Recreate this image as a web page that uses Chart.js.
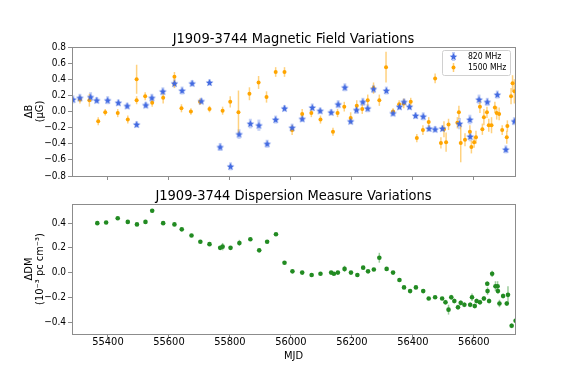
<!DOCTYPE html>
<html>
<head>
<meta charset="utf-8">
<script src="https://cdn.jsdelivr.net/npm/chart.js@4.4.1/dist/chart.umd.min.js"></script>
<style>
body { margin: 0; background: #fff; }
#wrap { position: relative; width: 572px; height: 382px; }
canvas { position: absolute; left: 0; }
</style>
</head>
<body>
<div id="wrap">
<canvas id="bChart" width="572" height="190" style="top:0px"></canvas>
<canvas id="dmChart" width="572" height="202" style="top:180px"></canvas>
</div>
<script>
// magnetic field, 820 MHz
var b820Mjd = [55285, 55308, 55343, 55363, 55399, 55434, 55463, 55494, 55524, 55544, 55580, 55618, 55643, 55676, 55706, 55733, 55768, 55802, 55830, 55867, 55895, 55922, 55950, 55979, 56004, 56037, 56070, 56096, 56132, 56155, 56177, 56196, 56215, 56236, 56252, 56271, 56313, 56335, 56356, 56371, 56389, 56409, 56434, 56453, 56473, 56497, 56553, 56587, 56588, 56617, 56644, 56677, 56705, 56733];
var b820Val = [0.15, 0.17, 0.18, 0.14, 0.14, 0.11, 0.07, -0.16, 0.08, 0.17, 0.25, 0.35, 0.26, 0.35, 0.13, 0.36, -0.44, -0.68, -0.28, -0.15, -0.17, -0.40, -0.10, 0.04, -0.20, -0.09, 0.05, 0.01, -0.01, 0.09, 0.30, -0.12, 0.02, 0.12, 0.04, 0.28, 0.26, -0.02, 0.06, 0.12, 0.06, -0.05, -0.06, -0.21, -0.22, -0.21, -0.15, -0.10, -0.31, 0.15, 0.12, 0.21, -0.47, -0.12];
var b820Err = [0.05, 0.05, 0.06, 0.04, 0.05, 0.04, 0.04, 0.04, 0.04, 0.05, 0.05, 0.05, 0.05, 0.04, 0.04, 0.04, 0.05, 0.05, 0.06, 0.06, 0.07, 0.05, 0.05, 0.04, 0.05, 0.04, 0.05, 0.04, 0.04, 0.05, 0.05, 0.04, 0.05, 0.05, 0.05, 0.05, 0.05, 0.04, 0.04, 0.04, 0.04, 0.04, 0.05, 0.04, 0.04, 0.04, 0.07, 0.06, 0.06, 0.06, 0.05, 0.05, 0.05, 0.05];

// magnetic field, 1500 MHz
var b1500Mjd = [55308, 55339, 55368, 55391, 55432, 55465, 55494, 55494, 55522, 55545, 55581, 55618, 55618, 55641, 55672, 55702, 55733, 55776, 55801, 55828, 55864, 55894, 55920, 55950, 55979, 56004, 56037, 56067, 56097, 56138, 56153, 56175, 56196, 56216, 56234, 56252, 56271, 56290, 56312, 56335, 56355, 56370, 56393, 56413, 56433, 56452, 56473, 56492, 56502, 56509, 56517, 56546, 56551, 56557, 56571, 56587, 56592, 56601, 56607, 56620, 56628, 56633, 56643, 56649, 56658, 56669, 56675, 56683, 56693, 56708, 56710, 56722, 56727, 56733];
var b1500Val = [0.15, 0.14, -0.12, -0.01, -0.02, -0.10, 0.40, 0.14, 0.19, 0.11, 0.17, 0.43, 0.34, 0.04, 0.00, 0.12, 0.03, 0.01, 0.12, -0.01, 0.22, 0.36, 0.18, 0.49, 0.49, -0.23, -0.03, -0.02, -0.10, -0.25, -0.02, 0.06, -0.08, 0.07, 0.03, 0.14, 0.29, 0.14, 0.55, 0.00, 0.09, 0.10, 0.12, -0.33, -0.23, -0.13, 0.41, -0.39, -0.22, -0.38, -0.16, -0.14, -0.01, -0.39, -0.35, -0.25, -0.44, -0.38, -0.32, 0.06, -0.22, -0.07, -0.01, -0.17, -0.17, 0.05, -0.02, -0.03, -0.23, -0.32, -0.18, 0.19, 0.35, 0.25];
var b1500Err = [0.05, 0.08, 0.05, 0.04, 0.05, 0.05, 0.18, 0.05, 0.05, 0.05, 0.07, 0.06, 0.05, 0.05, 0.04, 0.04, 0.04, 0.05, 0.07, 0.27, 0.08, 0.08, 0.07, 0.06, 0.06, 0.06, 0.06, 0.05, 0.05, 0.05, 0.05, 0.06, 0.07, 0.07, 0.06, 0.07, 0.07, 0.07, 0.19, 0.04, 0.05, 0.06, 0.05, 0.05, 0.06, 0.06, 0.06, 0.07, 0.10, 0.12, 0.07, 0.07, 0.08, 0.24, 0.08, 0.08, 0.08, 0.07, 0.08, 0.08, 0.07, 0.10, 0.07, 0.08, 0.10, 0.07, 0.08, 0.08, 0.06, 0.08, 0.07, 0.10, 0.10, 0.15];

// dispersion measure
var dmMjd = [55365, 55394, 55432, 55465, 55495, 55523, 55545, 55581, 55618, 55642, 55674, 55703, 55733, 55768, 55776, 55802, 55831, 55867, 55896, 55922, 55951, 55979, 56005, 56037, 56068, 56097, 56132, 56141, 56154, 56176, 56197, 56218, 56237, 56253, 56272, 56290, 56314, 56335, 56356, 56371, 56391, 56410, 56434, 56452, 56473, 56496, 56507, 56517, 56526, 56536, 56548, 56557, 56569, 56588, 56594, 56603, 56609, 56620, 56633, 56644, 56645, 56650, 56660, 56671, 56678, 56679, 56684, 56696, 56708, 56712, 56724, 56737];
var dmVal = [0.40, 0.405, 0.44, 0.41, 0.39, 0.41, 0.50, 0.40, 0.39, 0.35, 0.30, 0.25, 0.23, 0.20, 0.21, 0.20, 0.24, 0.27, 0.18, 0.25, 0.31, 0.08, 0.01, 0.00, -0.02, -0.01, 0.00, -0.01, 0.00, 0.03, 0.00, -0.02, 0.04, 0.01, 0.025, 0.12, 0.03, 0.00, -0.06, -0.12, -0.15, -0.12, -0.15, -0.21, -0.20, -0.21, -0.24, -0.30, -0.20, -0.23, -0.28, -0.245, -0.26, -0.26, -0.20, -0.27, -0.23, -0.24, -0.21, -0.09, -0.15, -0.23, -0.01, -0.11, -0.11, -0.15, -0.25, -0.19, -0.25, -0.18, -0.43, -0.39];
var dmErr = [0.01, 0.01, 0.01, 0.01, 0.01, 0.015, 0.015, 0.01, 0.01, 0.01, 0.01, 0.01, 0.01, 0.01, 0.03, 0.01, 0.025, 0.01, 0.01, 0.01, 0.01, 0.01, 0.01, 0.01, 0.01, 0.01, 0.01, 0.01, 0.01, 0.025, 0.01, 0.01, 0.01, 0.01, 0.01, 0.04, 0.01, 0.01, 0.01, 0.01, 0.01, 0.01, 0.01, 0.01, 0.01, 0.01, 0.02, 0.04, 0.02, 0.02, 0.02, 0.02, 0.02, 0.02, 0.03, 0.02, 0.02, 0.02, 0.02, 0.02, 0.03, 0.02, 0.025, 0.04, 0.04, 0.02, 0.03, 0.02, 0.02, 0.07, 0.02, 0.02];

var mjdTicks = [55400, 55600, 55800, 56000, 56200, 56400, 56600];
var bTicks = [-0.8, -0.6, -0.4, -0.2, 0.0, 0.2, 0.4, 0.6, 0.8];
var dmTicks = [-0.4, -0.2, 0.0, 0.2, 0.4];

var FONT = "'DejaVu Sans Condensed', 'DejaVu Sans', sans-serif";
Chart.defaults.font.family = FONT;
Chart.defaults.color = '#000';

function pts(xs, ys) {
    return xs.map(function(v, i) { return {x: v, y: ys[i]}; });
}

function fmt(v) {
    return Number(v).toFixed(1).replace('-', '\u2212');
}

// filled 5-point star like matplotlib '*'
function makeStar(color) {
    var c = document.createElement('canvas');
    c.width = 9; c.height = 9;
    var g = c.getContext('2d');
    g.fillStyle = color;
    g.beginPath();
    for (var i = 0; i < 10; i++) {
        var r = i % 2 === 0 ? 4.0 : 1.7;
        var a = -Math.PI / 2 + i * Math.PI / 5;
        var px = 4.5 + r * Math.cos(a), py = 4.9 + r * Math.sin(a);
        if (i === 0) g.moveTo(px, py); else g.lineTo(px, py);
    }
    g.closePath();
    g.fill();
    return c;
}
var blueStar = makeStar('#4169e1');

var errorBars = {
    id: 'errorBars',
    beforeDatasetsDraw: function(chart) {
        var ctx = chart.ctx, a = chart.chartArea;
        var xs = chart.scales.x, ys = chart.scales.y;
        ctx.save();
        ctx.beginPath();
        ctx.rect(a.left, a.top, a.right - a.left, a.bottom - a.top);
        ctx.clip();
        chart.data.datasets.forEach(function(ds) {
            if (!ds.errors) return;
            ctx.strokeStyle = ds.errColor;
            ctx.lineWidth = ds.errWidth;
            ds.data.forEach(function(p, i) {
                var px = xs.getPixelForValue(p.x);
                ctx.beginPath();
                ctx.moveTo(px, ys.getPixelForValue(p.y - ds.errors[i]));
                ctx.lineTo(px, ys.getPixelForValue(p.y + ds.errors[i]));
                ctx.stroke();
            });
        });
        ctx.restore();
    }
};

// box around the axes + title above
var frame = {
    id: 'frame',
    afterDraw: function(chart, args, opts) {
        var ctx = chart.ctx, a = chart.chartArea;
        ctx.save();
        ctx.strokeStyle = '#8c8c8c';
        ctx.lineWidth = 1;
        ctx.strokeRect(Math.round(a.left) + 0.5, Math.round(a.top) + 0.5, Math.round(a.right - a.left), Math.round(a.bottom - a.top));
        ctx.fillStyle = '#000';
        ctx.font = '14.5px ' + FONT;
        ctx.textAlign = 'center';
        ctx.textBaseline = 'alphabetic';
        ctx.fillText(opts.text, (a.left + a.right) / 2, a.top - 4.5);
        ctx.restore();
    }
};

var legendBox = {
    id: 'legendBox',
    afterDraw: function(chart) {
        var ctx = chart.ctx;
        ctx.save();
        ctx.fillStyle = 'rgba(255,255,255,0.85)';
        ctx.strokeStyle = '#d0d0d0';
        ctx.lineWidth = 1;
        ctx.beginPath();
        ctx.roundRect(442.5, 50.5, 68, 25, 2);
        ctx.fill();
        ctx.stroke();
        // 820 MHz entry
        ctx.strokeStyle = 'rgba(65,105,225,0.35)';
        ctx.lineWidth = 3;
        ctx.beginPath(); ctx.moveTo(453.5, 52); ctx.lineTo(453.5, 61); ctx.stroke();
        ctx.drawImage(blueStar, 449, 52);
        // 1500 MHz entry
        ctx.strokeStyle = 'rgba(255,165,0,0.55)';
        ctx.lineWidth = 1.5;
        ctx.beginPath(); ctx.moveTo(453.5, 63); ctx.lineTo(453.5, 72); ctx.stroke();
        ctx.fillStyle = '#ffa500';
        ctx.beginPath(); ctx.arc(453.5, 67.5, 2, 0, Math.PI * 2); ctx.fill();
        ctx.fillStyle = '#000';
        ctx.font = '8.5px ' + FONT;
        ctx.textAlign = 'left';
        ctx.textBaseline = 'middle';
        ctx.fillText('820 MHz', 468, 57);
        ctx.fillText('1500 MHz', 468, 68);
        ctx.restore();
    }
};

function xAxis(showLabels, height) {
    return {
        type: 'linear',
        min: 55282,
        max: 56735,
        afterBuildTicks: function(s) { s.ticks = mjdTicks.map(function(v) { return {value: v}; }); },
        afterFit: function(s) { s.height = height; },
        grid: { drawOnChartArea: false, drawTicks: true, tickLength: 4, color: '#8c8c8c' },
        border: { display: true, color: '#8c8c8c' },
        ticks: { display: showLabels, font: { size: 11 }, padding: -2, maxRotation: 0,
                 callback: function(v) { return String(v); } },
        title: { display: showLabels, text: 'MJD', font: { size: 11, lineHeight: 1 }, padding: { top: 0, bottom: 20 } }
    };
}

function yAxis(min, max, tickList, titleLines) {
    return {
        type: 'linear',
        min: min,
        max: max,
        afterBuildTicks: function(s) { s.ticks = tickList.map(function(v) { return {value: v}; }); },
        afterFit: function(s) { s.width = 72; },
        grid: { drawOnChartArea: false, drawTicks: true, tickLength: 4, color: '#8c8c8c' },
        border: { display: true, color: '#8c8c8c' },
        ticks: { font: { size: 10 }, padding: 2, callback: fmt },
        title: { display: true, text: titleLines, font: { size: 11, lineHeight: 1 }, padding: { top: 24, bottom: 0 } }
    };
}

document.addEventListener('DOMContentLoaded', function() {
    var ctx1 = document.getElementById('bChart').getContext('2d');
    new Chart(ctx1, {
        type: 'scatter',
        data: {
            datasets: [{
                label: '820 MHz',
                data: pts(b820Mjd, b820Val),
                errors: b820Err,
                errColor: 'rgba(65,105,225,0.3)',
                errWidth: 3,
                pointStyle: blueStar,
                backgroundColor: '#4169e1',
                borderColor: '#4169e1'
            }, {
                label: '1500 MHz',
                data: pts(b1500Mjd, b1500Val),
                errors: b1500Err,
                errColor: 'rgba(255,165,0,0.5)',
                errWidth: 1.5,
                pointStyle: 'circle',
                pointRadius: 2,
                borderWidth: 0,
                backgroundColor: '#ffa500',
                borderColor: '#ffa500'
            }]
        },
        options: {
            responsive: false,
            animation: false,
            devicePixelRatio: 1,
            layout: { padding: { left: 0, right: 57, top: 47, bottom: 0 } },
            scales: {
                x: xAxis(false, 14),
                y: yAxis(-0.8, 0.8, bTicks, ['\u0394B', '(\u03bcG)'])
            },
            plugins: {
                legend: { display: false },
                tooltip: { enabled: false },
                frame: { text: 'J1909-3744 Magnetic Field Variations' }
            }
        },
        plugins: [errorBars, frame, legendBox]
    });

    var ctx2 = document.getElementById('dmChart').getContext('2d');
    new Chart(ctx2, {
        type: 'scatter',
        data: {
            datasets: [{
                label: 'DM',
                data: pts(dmMjd, dmVal),
                errors: dmErr,
                errColor: 'rgba(34,139,34,0.45)',
                errWidth: 1.5,
                pointStyle: 'circle',
                pointRadius: 2.3,
                borderWidth: 0,
                backgroundColor: '#228b22',
                borderColor: '#228b22'
            }]
        },
        options: {
            responsive: false,
            animation: false,
            devicePixelRatio: 1,
            layout: { padding: { left: 0, right: 57, top: 24, bottom: 0 } },
            scales: {
                x: xAxis(true, 48),
                y: yAxis(-0.497, 0.555, dmTicks, ['\u0394DM', '(10\u207b\u00b3 pc cm\u207b\u00b3)'])
            },
            plugins: {
                legend: { display: false },
                tooltip: { enabled: false },
                frame: { text: 'J1909-3744 Dispersion Measure Variations' }
            }
        },
        plugins: [errorBars, frame]
    });
});
</script>
</body>
</html>
